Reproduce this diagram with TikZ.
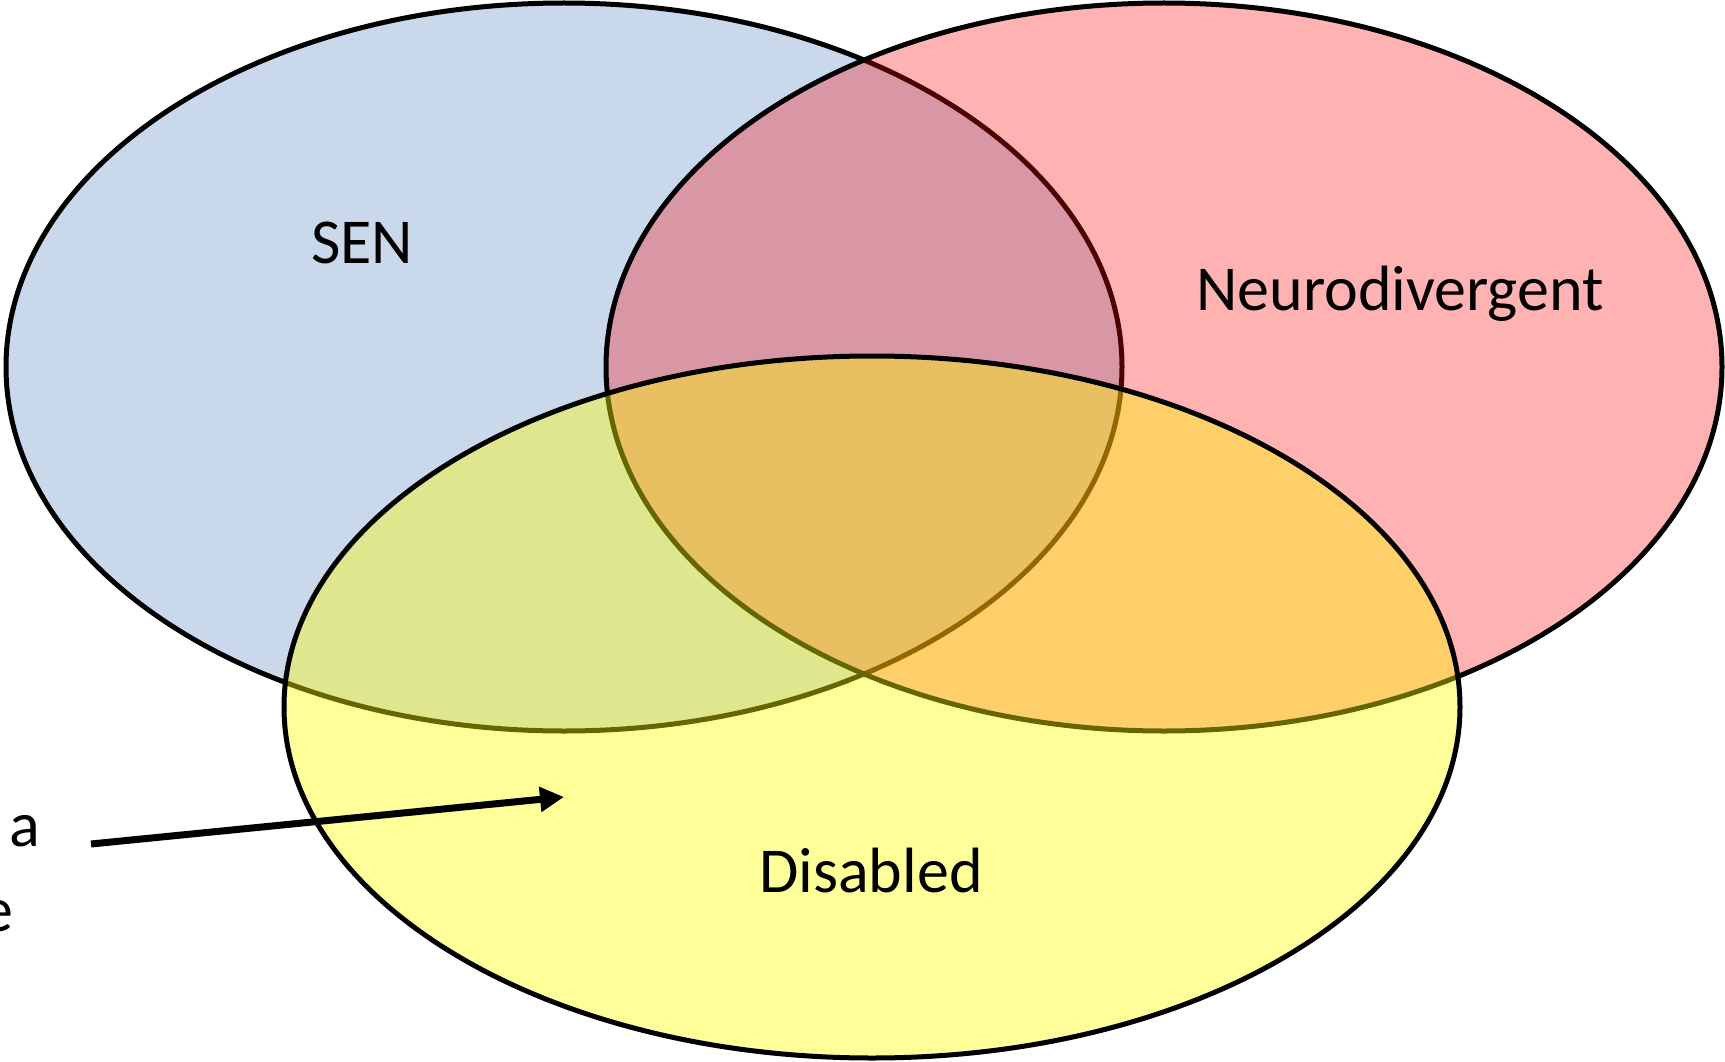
\documentclass[tikz,border=0pt]{standalone}
\usepackage{fontspec}
\setmainfont{Carlito}
\usetikzlibrary{arrows.meta}
\tikzset{
  setshape/.style={draw=black, line width=5pt, fill opacity=#1},
  lbl/.style={font=\fontsize{64}{72}\selectfont, text=black, inner sep=0pt},
}
\begin{document}
\begin{tikzpicture}[x=1pt,y=-1pt]
\useasboundingbox (0,0) rectangle (1725,1062);
\clip (0,0) rectangle (1725,1062);
\fill[white] (0,0) rectangle (1725,1062);
\draw[setshape=0.3, fill={rgb,255:red,79;green,129;blue,189}] (564,367) ellipse [x radius=558, y radius=364];
\draw[setshape=0.3, fill={rgb,255:red,255;green,0;blue,0}] (1164,367) ellipse [x radius=558, y radius=364];
\draw[setshape=0.4, fill={rgb,255:red,255;green,255;blue,0}] (872,707) ellipse [x radius=588, y radius=351];
\node[lbl] (sen) at (362,243) {SEN};
\node[lbl] (neuro) at (1400,294) {Neurodivergent};
\node[lbl] (dis) at (871,871) {Disabled};
\node[lbl, anchor=east] (a) at (40,831) {a};
\node[lbl, anchor=east] (e) at (14,916) {e};
\coordinate (arrs) at (91,844);
\coordinate (arre) at (564,797);
\draw[line width=7pt, -{Triangle[length=24pt,width=24pt]}] (arrs) -- (arre);
\end{tikzpicture}
\end{document}
